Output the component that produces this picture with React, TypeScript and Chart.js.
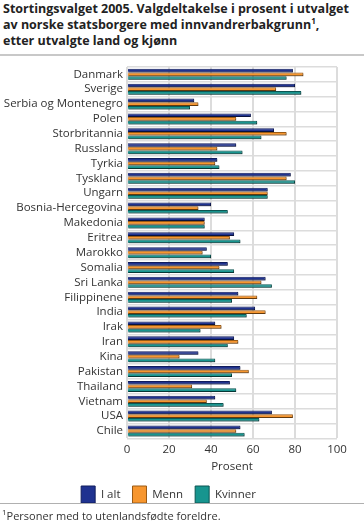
import React, { useEffect, useRef } from "react";
import { Chart, registerables } from "chart.js";

Chart.register(...registerables);

const categories = [
  "Danmark", "Sverige", "Serbia og Montenegro", "Polen", "Storbritannia", "Russland", "Tyrkia",
  "Tyskland", "Ungarn", "Bosnia-Hercegovina", "Makedonia", "Eritrea", "Marokko", "Somalia",
  "Sri Lanka", "Filippinene", "India", "Irak", "Iran", "Kina", "Pakistan", "Thailand",
  "Vietnam", "USA", "Chile",
];
const iAlt = [79, 80, 32, 59, 70, 52, 43, 78, 67, 40, 37, 51, 38, 48, 66, 53, 61, 42, 51, 34, 54, 49, 42, 69, 54];
const menn = [84, 71, 34, 52, 76, 43, 42, 76, 67, 34, 37, 49, 36, 44, 64, 62, 66, 45, 53, 25, 58, 31, 38, 79, 52];
const kvinner = [76, 83, 30, 62, 64, 55, 44, 80, 67, 48, 37, 54, 40, 51, 69, 50, 57, 35, 48, 42, 50, 52, 46, 63, 56];
const xTicks = [0, 20, 40, 60, 80, 100];
const seriesNames = ["I alt", "Menn", "Kvinner"];

const FONT = "'Open Sans', 'Noto Sans', sans-serif";

const shadowPlugin = {
  id: "barShadow",
  beforeDatasetsDraw(chart: any) {
    const ctx = chart.ctx;
    ctx.save();
    ctx.shadowColor = "rgba(0,0,0,0.35)";
    ctx.shadowOffsetX = 1;
    ctx.shadowOffsetY = 1;
    ctx.shadowBlur = 0;
  },
  afterDatasetsDraw(chart: any) {
    chart.ctx.restore();
  },
};

export default function App() {
  const ref = useRef<HTMLCanvasElement | null>(null);

  useEffect(() => {
    document.body.style.margin = "0";
    const c = ref.current;
    if (!c) return;
    const chart = new Chart(c, {
      type: "bar",
      data: {
        labels: categories,
        datasets: [
          { label: seriesNames[0], data: iAlt, backgroundColor: "#1f3290", borderColor: "#101c5c", borderWidth: 1 },
          { label: seriesNames[1], data: menn, backgroundColor: "#f7962e", borderColor: "#9a5a14", borderWidth: 1 },
          { label: seriesNames[2], data: kvinner, backgroundColor: "#17958f", borderColor: "#0b5552", borderWidth: 1 },
        ],
      },
      options: {
        indexAxis: "y",
        animation: false,
        responsive: false,
        maintainAspectRatio: false,
        layout: { padding: { top: 5, right: 27, left: 0, bottom: 0 } },
        datasets: { bar: { categoryPercentage: 0.74, barPercentage: 1 } },
        scales: {
          x: {
            min: 0,
            max: 100,
            afterBuildTicks: (s: any) => { s.ticks = xTicks.map((v) => ({ value: v })); },
            grid: { color: "#dcdcdc", lineWidth: 2, drawTicks: false },
            border: { display: false },
            ticks: { color: "#333", font: { family: FONT, size: 11.5 }, padding: 4 },
            title: { display: true, text: "Prosent", color: "#333", font: { family: FONT, size: 11.5 }, padding: { top: 0, bottom: 0 } },
          },
          y: {
            afterFit: (s: any) => { s.width = 127; },
            grid: { color: "#dcdcdc", lineWidth: 1.5, offset: true, drawTicks: false },
            border: { display: false },
            ticks: { color: "#333", font: { family: FONT, size: 11.5 }, padding: 4, autoSkip: false },
          },
        },
        plugins: {
          legend: {
            position: "bottom",
            labels: { boxWidth: 14, boxHeight: 17, color: "#333", font: { family: FONT, size: 11.5 }, padding: 12 },
          },
          tooltip: { enabled: false },
        },
      },
      plugins: [shadowPlugin],
    });
    return () => chart.destroy();
  }, []);

  return (
    <div style={{ position: "relative", width: 364, height: 528, background: "#fff", fontFamily: FONT, color: "#222" }}>
      <div style={{ position: "absolute", left: 3, top: 1, fontWeight: 700, fontSize: 12.5, lineHeight: "16px", whiteSpace: "nowrap" }}>
        Stortingsvalget 2005. Valgdeltakelse i prosent i utvalget<br />
        av norske statsborgere med innvandrerbakgrunn<sup style={{ fontSize: 8, lineHeight: 0 }}>1</sup>,<br />
        etter utvalgte land og kjønn
      </div>
      <div style={{ position: "absolute", left: 0, top: 54, width: 364, height: 2, background: "#c8c8c8" }} />
      <canvas ref={ref} width={364} height={457} style={{ position: "absolute", left: 0, top: 56, width: 364, height: 457 }} />
      <div style={{ position: "absolute", left: 0, top: 503, width: 364, height: 1, background: "#b0b0b0" }} />
      <div style={{ position: "absolute", left: 2, top: 508, fontSize: 11, color: "#333", whiteSpace: "nowrap" }}>
        <sup style={{ fontSize: 8, lineHeight: 0 }}>1</sup>Personer med to utenlandsfødte foreldre.
      </div>
    </div>
  );
}
